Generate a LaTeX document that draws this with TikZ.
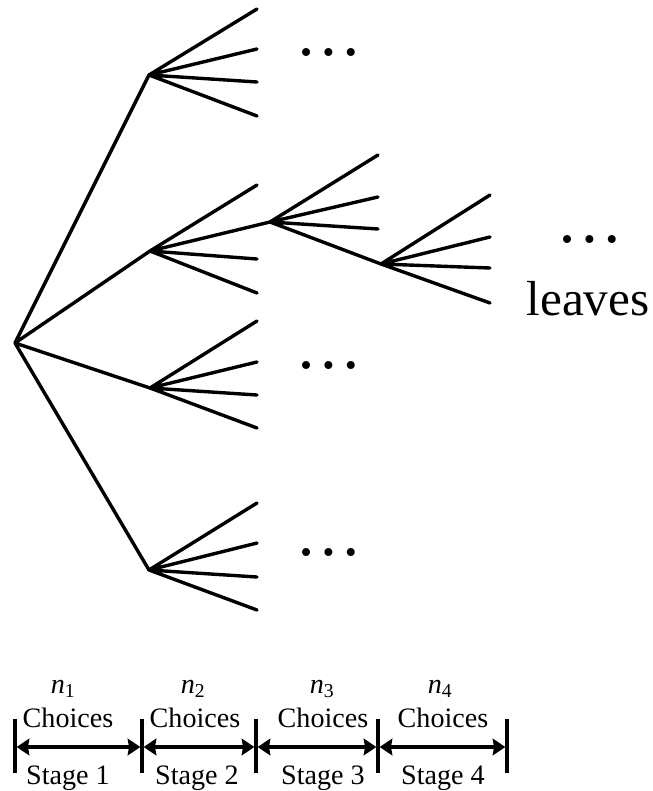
\documentclass[tikz,border=0pt]{standalone}
\usepackage{fontspec}
\setmainfont{Liberation Serif}
\usetikzlibrary{positioning, calc, arrows.meta}

\begin{document}
\begin{tikzpicture}[x=0.03cm, y=-0.03cm,
    branch/.style={line width=2.9pt, line cap=round},
    stagetick/.style={line width=2.8pt},
    stagearrow/.style={line width=3pt, {Stealth[length=0.38cm, width=0.5cm, inset=0.04cm]}-{Stealth[length=0.38cm, width=0.5cm, inset=0.04cm]}, shorten <=1.4pt, shorten >=1.4pt},
    lbl/.style={inner sep=0pt, anchor=base, font=\fontsize{24}{28}\selectfont},
    etc/.style={inner sep=0pt, anchor=base, font=\fontsize{57}{60}\selectfont}]
      \useasboundingbox (0,0) rectangle (653,791);

      % Nodes
      \coordinate (root) at (15,343);
      \coordinate (s1a) at (149,75);
      \coordinate (s1b) at (150,251);
      \coordinate (s1c) at (150,388);
      \coordinate (s1d) at (149,570);
      \coordinate (s2) at (270,222);
      \coordinate (s3) at (381,264);

      % Leaves
      \coordinate (a1) at (257,9);   \coordinate (a2) at (257,49);  \coordinate (a3) at (257,82);  \coordinate (a4) at (257,116);
      \coordinate (b1) at (257,185); \coordinate (b3) at (257,259); \coordinate (b4) at (257,293);
      \coordinate (c1) at (257,321); \coordinate (c2) at (257,362); \coordinate (c3) at (257,395); \coordinate (c4) at (257,428);
      \coordinate (d1) at (257,503); \coordinate (d2) at (257,543); \coordinate (d3) at (257,577); \coordinate (d4) at (257,610);
      \coordinate (e1) at (378,155); \coordinate (e2) at (378,197); \coordinate (e3) at (378,229);
      \coordinate (f1) at (490,195); \coordinate (f2) at (490,237); \coordinate (f3) at (490,268); \coordinate (f4) at (490,303);

      % Connections
      \draw[branch] (root) -- (s1a) (root) -- (s1b) (root) -- (s1c) (root) -- (s1d);
      \draw[branch] (s1a) -- (a1) (s1a) -- (a2) (s1a) -- (a3) (s1a) -- (a4);
      \draw[branch] (s1b) -- (b1) (s1b) -- (s2) (s1b) -- (b3) (s1b) -- (b4);
      \draw[branch] (s1c) -- (c1) (s1c) -- (c2) (s1c) -- (c3) (s1c) -- (c4);
      \draw[branch] (s1d) -- (d1) (s1d) -- (d2) (s1d) -- (d3) (s1d) -- (d4);
      \draw[branch] (s2) -- (e1) (s2) -- (e2) (s2) -- (e3) (s2) -- (s3);
      \draw[branch] (s3) -- (f1) (s3) -- (f2) (s3) -- (f3) (s3) -- (f4);

      % Dots and leaves
      \node[etc] (dotsa) at (329,56) {…};
      \node[etc] (dotsc) at (329,368) {…};
      \node[etc] (dotsd) at (329,555) {…};
      \node[etc] (dotsf) at (590,243) {…};
      \node[inner sep=0pt, anchor=base, font=\fontsize{42}{46}\selectfont] (leaves) at (588,315) {leaves};

      % Stages
      \coordinate (t1) at (15,747);
      \coordinate (t2) at (142,747);
      \coordinate (t3) at (256,747);
      \coordinate (t4) at (378,747);
      \coordinate (t5) at (507,747);
      \draw[stagetick] ($(t1)+(0,-28)$) -- ($(t1)+(0,26)$);
      \draw[stagetick] ($(t2)+(0,-28)$) -- ($(t2)+(0,26)$);
      \draw[stagetick] ($(t3)+(0,-28)$) -- ($(t3)+(0,26)$);
      \draw[stagetick] ($(t4)+(0,-28)$) -- ($(t4)+(0,26)$);
      \draw[stagetick] ($(t5)+(0,-28)$) -- ($(t5)+(0,26)$);
      \draw[stagearrow] (t1) -- (t2);
      \draw[stagearrow] (t2) -- (t3);
      \draw[stagearrow] (t3) -- (t4);
      \draw[stagearrow] (t4) -- (t5);

      \node[lbl] (n1) at (63,693) {\textit{n}\textsubscript{1}};
      \node[lbl] (n2) at (193,693) {\textit{n}\textsubscript{2}};
      \node[lbl] (n3) at (322,693) {\textit{n}\textsubscript{3}};
      \node[lbl] (n4) at (440,693) {\textit{n}\textsubscript{4}};
      \node[lbl] (ch1) at (68,727) {Choices};
      \node[lbl] (ch2) at (195,727) {Choices};
      \node[lbl] (ch3) at (323,727) {Choices};
      \node[lbl] (ch4) at (443,727) {Choices};
      \node[lbl] (st1) at (68,784) {Stage 1};
      \node[lbl] (st2) at (197,784) {Stage 2};
      \node[lbl] (st3) at (323,784) {Stage 3};
      \node[lbl] (st4) at (443,784) {Stage 4};
    \end{tikzpicture}
\end{document}
